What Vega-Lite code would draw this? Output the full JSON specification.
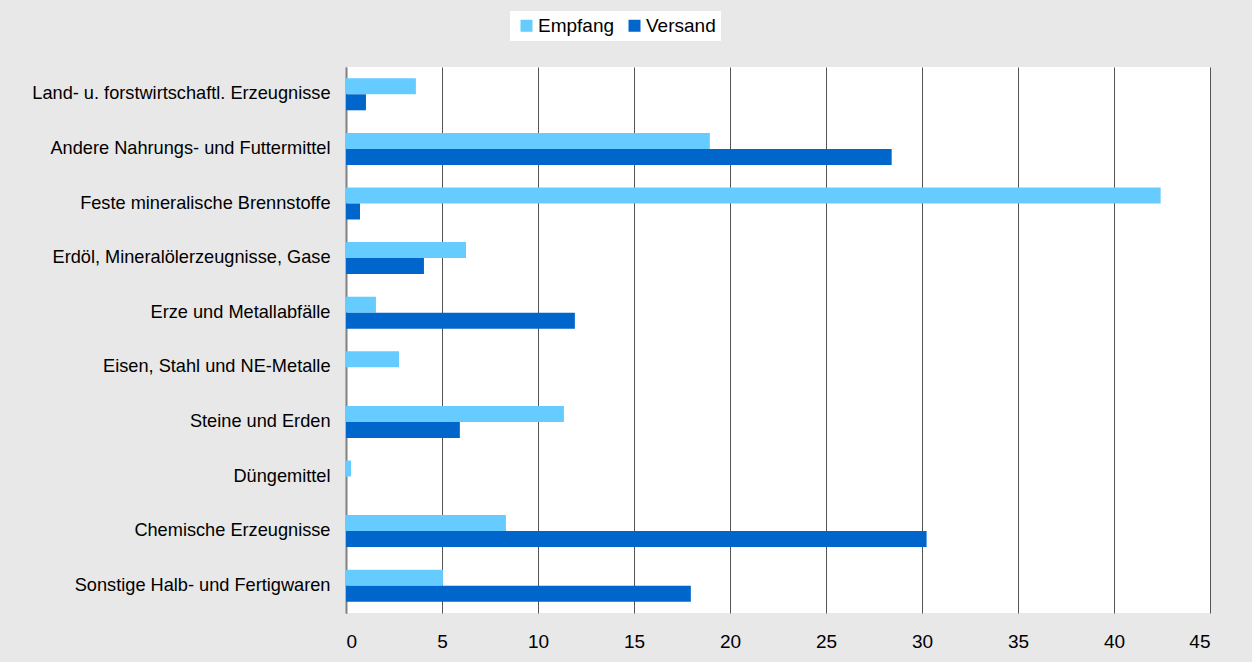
{
  "$schema": "https://vega.github.io/schema/vega-lite/v6.json",
  "autosize": {"type": "none"},
  "padding": {"left": 346, "top": 67, "right": 42, "bottom": 49},
  "width": 864,
  "height": 546,
  "background": "#e8e8e8",
  "config": {
    "view": {"fill": "white", "stroke": null},
    "font": "Liberation Sans"
  },
  "data": {
    "values": [
      {"Gruppe": "Land- u. forstwirtschaftl. Erzeugnisse", "Art": "Empfang", "Wert": 3.64},
      {"Gruppe": "Land- u. forstwirtschaftl. Erzeugnisse", "Art": "Versand", "Wert": 1.04},
      {"Gruppe": "Andere Nahrungs- und Futtermittel", "Art": "Empfang", "Wert": 18.95},
      {"Gruppe": "Andere Nahrungs- und Futtermittel", "Art": "Versand", "Wert": 28.42},
      {"Gruppe": "Feste mineralische Brennstoffe", "Art": "Empfang", "Wert": 42.43},
      {"Gruppe": "Feste mineralische Brennstoffe", "Art": "Versand", "Wert": 0.73},
      {"Gruppe": "Erdöl, Mineralölerzeugnisse, Gase", "Art": "Empfang", "Wert": 6.25},
      {"Gruppe": "Erdöl, Mineralölerzeugnisse, Gase", "Art": "Versand", "Wert": 4.06},
      {"Gruppe": "Erze und Metallabfälle", "Art": "Empfang", "Wert": 1.56},
      {"Gruppe": "Erze und Metallabfälle", "Art": "Versand", "Wert": 11.92},
      {"Gruppe": "Eisen, Stahl und NE-Metalle", "Art": "Empfang", "Wert": 2.76},
      {"Gruppe": "Eisen, Stahl und NE-Metalle", "Art": "Versand", "Wert": 0},
      {"Gruppe": "Steine und Erden", "Art": "Empfang", "Wert": 11.35},
      {"Gruppe": "Steine und Erden", "Art": "Versand", "Wert": 5.93},
      {"Gruppe": "Düngemittel", "Art": "Empfang", "Wert": 0.26},
      {"Gruppe": "Düngemittel", "Art": "Versand", "Wert": 0},
      {"Gruppe": "Chemische Erzeugnisse", "Art": "Empfang", "Wert": 8.33},
      {"Gruppe": "Chemische Erzeugnisse", "Art": "Versand", "Wert": 30.24},
      {"Gruppe": "Sonstige Halb- und Fertigwaren", "Art": "Empfang", "Wert": 5.05},
      {"Gruppe": "Sonstige Halb- und Fertigwaren", "Art": "Versand", "Wert": 17.96}
    ]
  },
  "mark": {"type": "bar"},
  "encoding": {
    "y": {
      "field": "Gruppe",
      "type": "nominal",
      "sort": null,
      "scale": {"paddingInner": 0.414, "paddingOuter": 0.207},
      "axis": {
        "title": null,
        "ticks": false,
        "domain": true,
        "domainColor": "#808080",
        "domainWidth": 2,
        "labelFont": "Liberation Sans",
        "labelFontSize": 18.2,
        "labelColor": "#000000",
        "labelPadding": 16,
        "labelLimit": 400
      }
    },
    "yOffset": {
      "field": "Art",
      "type": "nominal",
      "sort": ["Empfang", "Versand"],
      "scale": {"paddingInner": 0, "paddingOuter": 0}
    },
    "x": {
      "field": "Wert",
      "type": "quantitative",
      "scale": {"domain": [0, 45], "nice": false},
      "axis": {
        "title": null,
        "values": [0, 5, 10, 15, 20, 25, 30, 35, 40, 45],
        "grid": true,
        "gridColor": "#555555",
        "gridWidth": 1,
        "domain": false,
        "ticks": false,
        "labelFont": "Liberation Sans",
        "labelFontSize": 19,
        "labelColor": "#000000",
        "labelPadding": 19
      }
    },
    "color": {
      "field": "Art",
      "type": "nominal",
      "scale": {"domain": ["Empfang", "Versand"], "range": ["#66ccff", "#0066cc"]},
      "legend": {
        "title": null,
        "orient": "none",
        "legendX": 164,
        "legendY": -56,
        "direction": "horizontal",
        "fillColor": "white",
        "padding": 5,
        "symbolType": "square",
        "symbolSize": 144,
        "symbolStrokeWidth": 0,
        "symbolOpacity": 1,
        "symbolOffset": 2,
        "labelFont": "Liberation Sans",
        "labelFontSize": 19,
        "labelColor": "#000000",
        "labelOffset": 2,
        "columnPadding": 8
      }
    }
  }
}
